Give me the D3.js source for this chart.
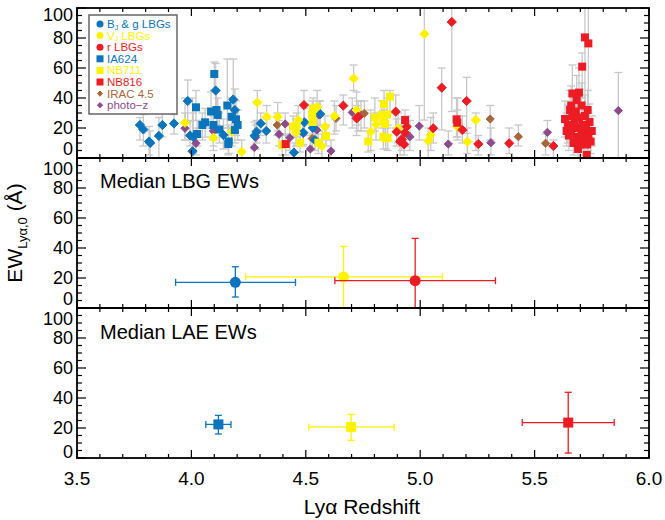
<!DOCTYPE html>
<html>
<head>
<meta charset="utf-8">
<script src="https://cdn.jsdelivr.net/npm/d3@7"></script>
<style>
  body { margin: 0; background: #fff; }
  svg { font-family: "Liberation Sans", Arial, Helvetica, sans-serif; }
</style>
</head>
<body>
<div id="graphicContainer"></div>
<script>
// [z, EW, lower, upper]
var bjLBG = [
  [3.775, 22, 12, 27], [3.79, 19, 8, 29], [3.815, 11, 2, 21], [3.82, 10, 0, 18],
  [3.858, 14.7, 0, 27], [3.873, 22, 14, 30], [3.924, 23, 16, 29], [3.984, 38, 24, 52],
  [3.994, 15, 8, 25], [4.005, 4.5, 0, 40], [4.008, 14, 5, 30], [4.106, 45, 30, 63],
  [4.14, 15.3, 6, 26], [4.183, 39, 25, 66], [4.19, 32, 20, 46], [4.276, 14.9, 6, 24],
  [4.285, 17.6, 10, 25], [4.303, 23, 15, 30], [4.327, 18, 10, 26], [4.448, 3.6, 0, 10],
  [4.489, 17, 9, 25], [4.494, 23.8, 15, 33], [4.531, 20, 12, 28], [4.54, 12, 5, 20],
  [4.563, 29.3, 22, 38]
];
var vjLBG = [
  [3.972, 23.5, 12, 40], [4.096, 13.5, 5, 22], [4.176, 17.5, 8, 28], [4.22, 4.2, 0, 12],
  [4.288, 37, 25, 45], [4.329, 27.5, 18, 35], [4.377, 27.5, 18, 37], [4.457, 16.9, 8, 26],
  [4.467, 25.3, 17, 35], [4.55, 34, 22, 45], [4.57, 8, 0, 16], [4.584, 20.9, 12, 28],
  [4.625, 28, 16, 38], [4.709, 53, 45, 62], [4.722, 32, 22, 44], [4.784, 17.5, 5, 32],
  [4.807, 22.4, 12, 30], [4.904, 19.8, 10, 30], [5.018, 82.7, 25.3, 110], [5.035, 11.5, 0, 20],
  [5.046, 15.3, 5, 27], [5.163, 20.9, 12, 40], [5.206, 10.9, 3, 20], [5.243, 25.3, 5, 30]
];
var rLBG = [
  [4.492, 35.3, 25, 45], [4.664, 34.9, 22, 42], [4.722, 26.4, 15, 35], [4.729, 27.5, 18, 38],
  [4.893, 30.9, 20, 42], [4.897, 17.5, 8, 26], [4.912, 10.9, 2, 18], [4.919, 12.4, 5, 22],
  [4.93, 9.1, 2, 18], [4.934, 16.9, 8, 25], [4.941, 20.9, 12, 28], [5.057, 19.8, 10, 30],
  [5.094, 46.9, 18.7, 60], [5.138, 90.7, 31, 110], [5.184, 18.7, 10, 28], [5.203, 38, 16.4, 53.8],
  [5.254, 9.3, 2, 15], [5.389, 9.8, 3, 20], [5.582, 8, 0, 12]
];
var ia624 = [
  [4.02, 33.8, 25, 45], [4.025, 16, 8, 25], [4.048, 22, 12, 30], [4.06, 23.8, 14, 33],
  [4.086, 31, 20, 44], [4.096, 22, 12, 32], [4.1, 56, 45, 64], [4.11, 32, 22, 45],
  [4.115, 28.7, 18, 40], [4.122, 19, 10, 30], [4.157, 35, 20, 66], [4.161, 9.3, 2, 20],
  [4.163, 11, 3, 22], [4.176, 27.5, 18, 40], [4.19, 18.7, 10, 30], [4.195, 25.8, 15, 38],
  [4.202, 22, 12, 32]
];
var nb711 = [
  [4.397, 8.7, 2, 16], [4.445, 20.9, 14, 28], [4.46, 21.3, 14, 30], [4.475, 10.2, 4, 18],
  [4.528, 29, 20, 38], [4.53, 24, 16, 32], [4.532, 33, 24, 40], [4.555, 10.2, 3, 18],
  [4.588, 14.7, 8, 22], [4.773, 11.1, 4, 18], [4.802, 27.1, 18, 40], [4.832, 28.7, 20, 38],
  [4.839, 25.3, 16, 32], [4.846, 22.7, 14, 30], [4.842, 36, 25, 45], [4.839, 14.2, 6, 24],
  [4.849, 13.1, 6, 20], [4.868, 40.9, 30, 45], [4.855, 29, 20, 40], [4.858, 13.5, 5, 22]
];
var nb816 = [
  [4.412, 9.3, 2, 16], [4.934, 25.3, 16, 32], [5.159, 25.8, 14, 40], [5.162, 23.5, 14, 32],
  [5.72, 80.4, 30, 110], [5.735, 76.4, 20, 110], [5.708, 60.9, 40, 70], [5.665, 43, 25, 62],
  [5.694, 43.6, 28, 60], [5.684, 38.7, 22, 55], [5.655, 32, 15, 45], [5.732, 32, 20, 45],
  [5.633, 26, 14, 38], [5.75, 18, 8, 28], [5.728, 2, 0, 8], [5.645, 22, 10, 35],
  [5.65, 15, 5, 25], [5.66, 19, 8, 30], [5.665, 28, 15, 42], [5.67, 10, 2, 20],
  [5.675, 24, 10, 36], [5.68, 31, 18, 45], [5.685, 14, 4, 25], [5.69, 20, 8, 32],
  [5.695, 27, 14, 40], [5.7, 9, 0, 18], [5.705, 17, 6, 28], [5.71, 22, 10, 35],
  [5.715, 12, 2, 22], [5.72, 28, 14, 42], [5.725, 19, 8, 32], [5.73, 9, 1, 18],
  [5.735, 15, 5, 25], [5.74, 24, 12, 36], [5.745, 11, 3, 20], [5.66, 35, 20, 48],
  [5.64, 18, 8, 30], [5.705, 35, 20, 50], [5.69, 6, 0, 14]
];
var irac = [
  [4.375, 22, 15, 30], [4.528, 13, 5, 22], [4.632, 26.4, 18, 35], [4.756, 29.8, 20, 38],
  [5.306, 26, 12, 35], [5.429, 14.2, 8, 22], [5.548, 9.8, 2, 16]
];
var photoz = [
  [3.972, 19.8, 12, 30], [4.02, 9.8, 2, 20], [4.096, 18, 8, 28], [4.275, 7, 0, 15],
  [4.281, 13.8, 6, 22], [4.383, 15.8, 8, 25], [4.41, 22.7, 15, 30], [4.43, 13.5, 5, 22],
  [4.489, 16.4, 8, 25], [4.52, 6, 0, 15], [4.548, 18.7, 10, 28], [4.558, 28.7, 18, 38],
  [4.61, 4.7, 0, 12], [4.703, 30.4, 20, 40], [4.741, 28.7, 18, 38], [4.955, 14.2, 5, 25],
  [4.996, 21.3, 12, 35], [5.123, 9.3, 2, 18], [5.309, 10.2, 2, 20], [5.556, 17.1, 10, 25],
  [5.866, 31.6, 0, 57]
];

// medians: [z, zlo, zhi, EW, EWlo, EWhi]
var medianLBG = [
  [4.192, 3.931, 4.455, 17.1, 7.3, 27.5],
  [4.665, 4.237, 5.097, 20.7, -5, 41.1],
  [4.978, 4.627, 5.329, 18.2, -5, 46.4]
];
var medianLAE = [
  [4.118, 4.063, 4.173, 22.4, 16, 28.4],
  [4.698, 4.513, 4.886, 20.7, 11.8, 29.1],
  [5.647, 5.446, 5.848, 23.6, 3.3, 43.8]
];
var medianColors = ["#0a74bc", "#fff200", "#ed1c24"];

var legendLabels = [["B", "J", " & g LBGs"], ["V", "J", " LBGs"], ["r LBGs"], ["IA624"], ["NB711"], ["NB816"], ["IRAC 4.5"], ["photo\u2212z"]];
var xTicks = [3.5, 4.0, 4.5, 5.0, 5.5, 6.0];
var yTicks = [0, 20, 40, 60, 80, 100];

var blue = "#0a74bc", yellow = "#fff200", red = "#ed1c24", brown = "#a5673b", purple = "#8c4b8c";

var series = [
  {data: photoz, color: purple, shape: "diamond", size: 7},
  {data: irac, color: brown, shape: "diamond", size: 7},
  {data: bjLBG, color: blue, shape: "diamond", size: 8},
  {data: vjLBG, color: yellow, shape: "diamond", size: 8},
  {data: rLBG, color: red, shape: "diamond", size: 8},
  {data: ia624, color: blue, shape: "square", size: 8},
  {data: nb711, color: yellow, shape: "square", size: 8},
  {data: nb816, color: red, shape: "square", size: 8}
];
var legendColors = [blue, yellow, red, blue, yellow, red, brown, purple];
var legendShapes = ["circle", "circle", "circle", "square", "square", "square", "diamond", "diamond"];

var width = 665, height = 520;
var left = 77, right = 649, panelH = 150;
var tops = [8, 158, 308];

var svg = d3.select("#graphicContainer").append("svg")
  .attr("width", width).attr("height", height);

var x = d3.scaleLinear().domain([3.5, 6.0]).range([left, right]);

function yScale(i) {
  return d3.scaleLinear().domain([0, 100]).range([tops[i] + panelH, tops[i]]);
}

function marker(g, shape, cx, cy, s, color) {
  if (shape === "square") {
    g.append("rect").attr("x", cx - s / 2).attr("y", cy - s / 2)
      .attr("width", s).attr("height", s).attr("fill", color);
  } else if (shape === "circle") {
    g.append("circle").attr("cx", cx).attr("cy", cy).attr("r", s / 2).attr("fill", color);
  } else {
    var h = s / 2 + 0.6;
    g.append("path").attr("d", "M" + cx + "," + (cy - h) + "L" + (cx + h) + "," + cy +
      "L" + cx + "," + (cy + h) + "L" + (cx - h) + "," + cy + "Z")
      .attr("fill", color).attr("stroke", color).attr("stroke-width", 1).attr("stroke-linejoin", "round");
  }
}

var defs = svg.append("defs");
tops.forEach(function(t, i) {
  defs.append("clipPath").attr("id", "clip" + i)
    .append("rect").attr("x", left).attr("y", t).attr("width", right - left).attr("height", panelH);
});

// ---- top panel: individual objects
var y0 = yScale(0);
var topG = svg.append("g").attr("clip-path", "url(#clip0)");
var errG = topG.append("g").attr("stroke", "#c8c8c8").attr("stroke-width", 1.3).attr("fill", "none");
series.forEach(function(s) {
  s.data.forEach(function(d) {
    var px = x(d[0]);
    errG.append("line").attr("x1", px).attr("x2", px).attr("y1", y0(d[2])).attr("y2", y0(d[3]));
    errG.append("line").attr("x1", px - 4).attr("x2", px + 4).attr("y1", y0(d[2])).attr("y2", y0(d[2]));
    errG.append("line").attr("x1", px - 4).attr("x2", px + 4).attr("y1", y0(d[3])).attr("y2", y0(d[3]));
  });
});
var ptG = topG.append("g");
series.forEach(function(s) {
  s.data.forEach(function(d) {
    marker(ptG, s.shape, x(d[0]), y0(d[1]), s.size, s.color);
  });
});

// ---- median panels
function drawMedians(i, data, shape, size) {
  var y = yScale(i);
  var g = svg.append("g").attr("clip-path", "url(#clip" + i + ")");
  data.forEach(function(d, k) {
    var c = medianColors[k];
    var eg = g.append("g").attr("stroke", c).attr("stroke-width", 1.3);
    eg.append("line").attr("x1", x(d[1])).attr("x2", x(d[2])).attr("y1", y(d[3])).attr("y2", y(d[3]));
    eg.append("line").attr("x1", x(d[1])).attr("x2", x(d[1])).attr("y1", y(d[3]) - 3.5).attr("y2", y(d[3]) + 3.5);
    eg.append("line").attr("x1", x(d[2])).attr("x2", x(d[2])).attr("y1", y(d[3]) - 3.5).attr("y2", y(d[3]) + 3.5);
    eg.append("line").attr("x1", x(d[0])).attr("x2", x(d[0])).attr("y1", y(d[4])).attr("y2", y(d[5]));
    eg.append("line").attr("x1", x(d[0]) - 3.5).attr("x2", x(d[0]) + 3.5).attr("y1", y(d[4])).attr("y2", y(d[4]));
    eg.append("line").attr("x1", x(d[0]) - 3.5).attr("x2", x(d[0]) + 3.5).attr("y1", y(d[5])).attr("y2", y(d[5]));
    marker(g, shape, x(d[0]), y(d[3]), size, c);
  });
}
drawMedians(1, medianLBG, "circle", 11);
drawMedians(2, medianLAE, "square", 10);

svg.append("text").attr("x", 100).attr("y", 188).attr("font-size", 20).text("Median LBG EWs");
svg.append("text").attr("x", 100).attr("y", 339).attr("font-size", 20).text("Median LAE EWs");

// ---- frames and ticks
var xMinor = d3.range(3.5, 6.001, 0.1);
var yMinor = d3.range(0, 100.1, 5);
tops.forEach(function(t, i) {
  var y = yScale(i);
  var g = svg.append("g").attr("stroke", "#000").attr("stroke-width", 1.2);
  xMinor.forEach(function(v) {
    var major = Math.abs(v * 2 - Math.round(v * 2)) < 1e-6;
    var L = major ? 8 : 4;
    g.append("line").attr("x1", x(v)).attr("x2", x(v)).attr("y1", t + panelH).attr("y2", t + panelH - L);
    g.append("line").attr("x1", x(v)).attr("x2", x(v)).attr("y1", t).attr("y2", t + L);
  });
  yMinor.forEach(function(v) {
    var L = v % 20 === 0 ? 9 : 5;
    g.append("line").attr("x1", left).attr("x2", left + L).attr("y1", y(v)).attr("y2", y(v));
    g.append("line").attr("x1", right).attr("x2", right - L).attr("y1", y(v)).attr("y2", y(v));
  });
  svg.append("rect").attr("x", left).attr("y", t).attr("width", right - left).attr("height", panelH)
    .attr("fill", "none").attr("stroke", "#000").attr("stroke-width", 1.8);

  svg.append("g").selectAll("text").data(yTicks).join("text")
    .attr("x", 73)
    .attr("y", function(v) {
      var off = 0;
      if (v === 100) off = i === 0 ? 7 : 11;
      if (v === 0) off = i === 2 ? -6 : -9;
      return y(v) + off;
    })
    .attr("dy", "0.36em")
    .attr("text-anchor", "end").attr("font-size", 18)
    .text(function(v) { return v; });
});

svg.append("g").selectAll("text").data(xTicks).join("text")
  .attr("x", function(v) { return x(v); }).attr("y", 485)
  .attr("text-anchor", "middle").attr("font-size", 19)
  .text(function(v) { return v.toFixed(1); });

svg.append("text").attr("x", x(4.75) - 1).attr("y", 514).attr("text-anchor", "middle")
  .attr("font-size", 21).text("Ly\u03b1 Redshift");

var yt = svg.append("text").attr("transform", "translate(22,233) rotate(-90)")
  .attr("text-anchor", "middle").attr("font-size", 21);
yt.append("tspan").text("EW");
yt.append("tspan").attr("font-size", 13).attr("dy", 5).text("Ly\u03b1,0");
yt.append("tspan").attr("dy", -5).text(" (\u00c5)");

// ---- legend
var lg = svg.append("g");
lg.append("rect").attr("x", 89).attr("y", 15).attr("width", 88).attr("height", 99)
  .attr("fill", "#fff").attr("stroke", "#666").attr("stroke-width", 1.5);
legendLabels.forEach(function(lab, k) {
  var ly = 24 + k * 11.6;
  marker(lg, legendShapes[k], 100, ly, legendShapes[k] === "diamond" ? 4 : 7, legendColors[k]);
  var t = lg.append("text").attr("x", 107).attr("y", ly + 4).attr("font-size", 11.5).attr("fill", legendColors[k]);
  t.append("tspan").text(lab[0]);
  if (lab.length > 1) {
    t.append("tspan").attr("font-size", 7).attr("dy", 1.5).text(lab[1]);
    t.append("tspan").attr("dy", -1.5).text(lab[2]);
  }
});
</script>
</body>
</html>
